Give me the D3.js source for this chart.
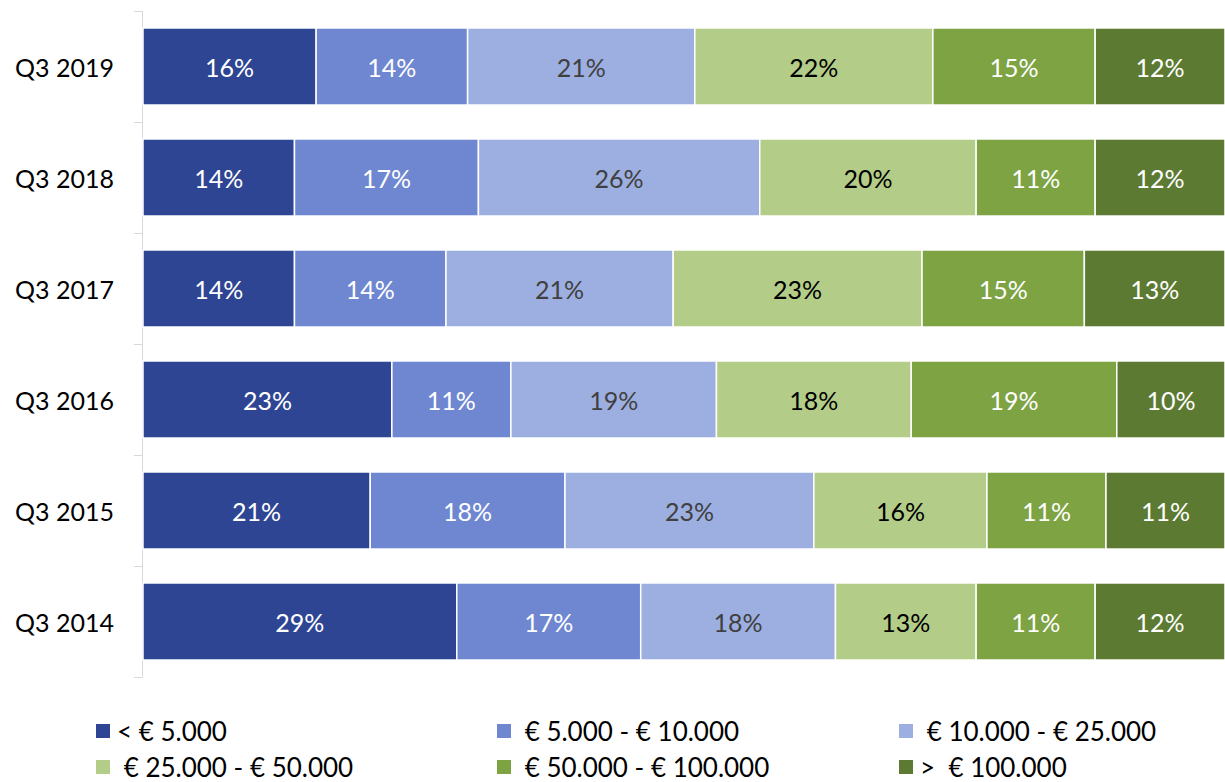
<!DOCTYPE html>
<html>
<head>
<meta charset="utf-8">
<script src="https://cdn.jsdelivr.net/npm/d3@7/dist/d3.min.js"></script>
<style>
  html, body { margin: 0; padding: 0; background: #fff; }
  svg { display: block; }
  text { font-family: Lato, "Open Sans", sans-serif; }
</style>
</head>
<body>
<svg id="chart" width="1225" height="782"></svg>
<script>
// Quarters, top to bottom
const categories = ["Q3 2019", "Q3 2018", "Q3 2017", "Q3 2016", "Q3 2015", "Q3 2014"];

// Value bands (series), in stacking order
const seriesNames = [
  "< € 5.000",
  " € 5.000 - € 10.000",
  " € 10.000 - € 25.000",
  " € 25.000 - € 50.000",
  " € 50.000 - € 100.000",
  ">  € 100.000"
];

// Share per band (%) for each quarter, same order as categories
const lt5k      = [16, 14, 14, 23, 21, 29];
const from5k    = [14, 17, 14, 11, 18, 17];
const from10k   = [21, 26, 21, 19, 23, 18];
const from25k   = [22, 20, 23, 18, 16, 13];
const from50k   = [15, 11, 15, 19, 11, 11];
const over100k  = [12, 12, 13, 10, 11, 12];

const seriesValues = [lt5k, from5k, from10k, from25k, from50k, over100k];

const colors    = ["#2E4593", "#6F87D1", "#9DAFE1", "#B3CD88", "#7DA343", "#5C7A32"];
const textColor = ["#ffffff", "#ffffff", "#404040", "#000000", "#ffffff", "#ffffff"];

const svg = d3.select("#chart");

const plotTop = 11, plotBottom = 677, plotLeft = 143, plotRight = 1225;

const y = d3.scaleBand()
  .domain(categories)
  .range([plotTop, plotBottom])
  .paddingInner(0.306)
  .paddingOuter(0.153);

const x = d3.scaleLinear().domain([0, 100]).range([plotLeft, plotRight]);

// Build a table for d3.stack
const keys = seriesNames.map((_, i) => "s" + i);
const table = categories.map((c, ci) => {
  const row = { category: c };
  keys.forEach((k, si) => { row[k] = seriesValues[si][ci]; });
  return row;
});
const stacked = d3.stack().keys(keys)(table);

// Category axis: line plus ticks at band boundaries
const step = y.step();
const axisG = svg.append("g");
axisG.append("line")
  .attr("x1", plotLeft - 0.5).attr("x2", plotLeft - 0.5)
  .attr("y1", plotTop).attr("y2", plotBottom)
  .attr("stroke", "#d9d9d9").attr("stroke-width", 1);
d3.range(categories.length + 1).forEach(i => {
  const ty = Math.round(plotTop + i * step) + 0.5;
  axisG.append("line")
    .attr("x1", plotLeft - 9).attr("x2", plotLeft - 0.5)
    .attr("y1", ty).attr("y2", ty)
    .attr("stroke", "#d9d9d9").attr("stroke-width", 1);
});
axisG.selectAll("text.cat")
  .data(categories)
  .join("text")
  .attr("class", "cat")
  .attr("x", 114)
  .attr("y", d => y(d) + y.bandwidth() / 2)
  .attr("text-anchor", "end")
  .attr("dominant-baseline", "central")
  .attr("font-size", 25)
  .attr("fill", "#000")
  .text(d => d);

// Stacked bars
const layers = svg.append("g").selectAll("g.layer")
  .data(stacked)
  .join("g")
  .attr("class", "layer");

layers.selectAll("rect")
  .data((d, i) => d.map(p => ({ p, i })))
  .join("rect")
  .attr("x", d => x(d.p[0]))
  .attr("y", d => y(d.p.data.category))
  .attr("width", d => x(d.p[1]) - x(d.p[0]))
  .attr("height", y.bandwidth())
  .attr("fill", d => colors[d.i])
  .attr("stroke", "#fff")
  .attr("stroke-width", 1.5);

layers.selectAll("text")
  .data((d, i) => d.map(p => ({ p, i })))
  .join("text")
  .attr("x", d => (x(d.p[0]) + x(d.p[1])) / 2)
  .attr("y", d => y(d.p.data.category) + y.bandwidth() / 2)
  .attr("text-anchor", "middle")
  .attr("dominant-baseline", "central")
  .attr("font-size", 25)
  .attr("fill", d => textColor[d.i])
  .text(d => (d.p[1] - d.p[0]) + "%");

// Legend: three columns, two rows
const legendCols = [96, 497, 899];
const legendRows = [731, 767];
const legend = svg.append("g");
seriesNames.forEach((name, i) => {
  const lx = legendCols[i % 3];
  const ly = legendRows[Math.floor(i / 3)];
  legend.append("rect")
    .attr("x", lx).attr("y", ly - 7)
    .attr("width", 14).attr("height", 14)
    .attr("fill", colors[i]);
  legend.append("text")
    .attr("x", lx + 21)
    .attr("y", ly)
    .attr("dominant-baseline", "central")
    .attr("font-size", 26)
    .attr("fill", "#000")
    .style("white-space", "pre")
    .text(name);
});
</script>
</body>
</html>
